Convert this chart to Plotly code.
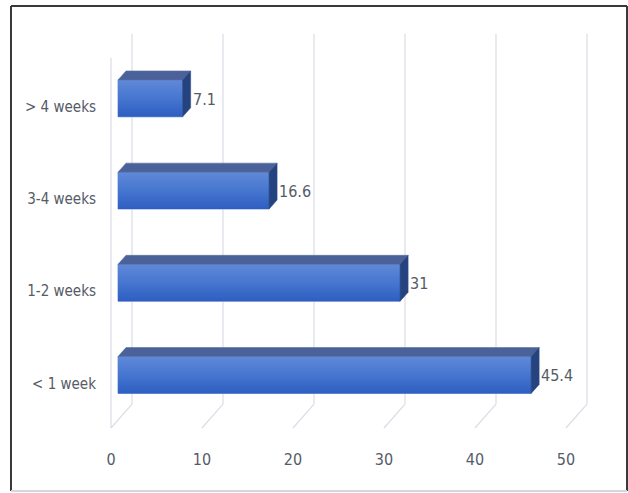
import plotly.graph_objects as go

# Response-time categories, bottom to top, and their percentages
categories = ["< 1 week", "1-2 weeks", "3-4 weeks", "> 4 weeks"]
values = [45.4, 31, 16.6, 7.1]
x_ticks = [0, 10, 20, 30, 40, 50]

# Pseudo-3D geometry, in axis units
BAR_HALF = 0.2          # half height of the bar front face
BAR_DX, BAR_DY = 0.88, 0.098   # bar depth offset (right / up)
FRONT_SHIFT = -0.77     # floor front edge relative to bar front plane
BACK_SHIFT = 1.54       # back wall relative to bar front plane
WALL_TOP, WALL_BOTTOM, FLOOR_FRONT = 3.70, -0.315, -0.575
SIDE_WALL_TOP = 3.44
LABEL_DROP = 0.09

FONT = "DejaVu Sans Condensed, DejaVu Sans, sans-serif"
TEXT_COLOR = "#555b67"
GRID_COLOR = "#d9dde6"

fig = go.Figure()

# Back-wall gridlines and their floor diagonals
shapes = []
for v in x_ticks:
    xb, xf = v + BACK_SHIFT, v + FRONT_SHIFT
    shapes.append(dict(type="line", xref="x", yref="y", x0=xb, x1=xb,
                       y0=WALL_TOP, y1=WALL_BOTTOM, layer="below",
                       line=dict(color=GRID_COLOR, width=1.2)))
    shapes.append(dict(type="line", xref="x", yref="y", x0=xb, x1=xf,
                       y0=WALL_BOTTOM, y1=FLOOR_FRONT, layer="below",
                       line=dict(color=GRID_COLOR, width=1.2)))
# front edge of the left side wall
shapes.append(dict(type="line", xref="x", yref="y",
                   x0=x_ticks[0] + FRONT_SHIFT, x1=x_ticks[0] + FRONT_SHIFT,
                   y0=SIDE_WALL_TOP, y1=FLOOR_FRONT, layer="below",
                   line=dict(color=GRID_COLOR, width=1.2)))

# Front faces of the bars
ypos = list(range(len(categories)))
fig.add_trace(go.Bar(
    x=values, y=ypos, orientation="h", width=2 * BAR_HALF,
    marker=dict(color="#3f6ecb", line=dict(color="#8eaae2", width=1)),
    hoverinfo="skip", showlegend=False,
))

# Shading, top face and side face of each bar
for i, v in enumerate(values):
    yb, yt = i - BAR_HALF, i + BAR_HALF
    # vertical shading on the front face
    fig.add_trace(go.Scatter(
        x=[0, v, v, 0, 0], y=[yb, yb, yt, yt, yb],
        mode="lines", line=dict(width=0), fill="toself",
        fillgradient=dict(type="vertical",
                          colorscale=[[0, "#2e5ec0"], [0.5, "#4676d0"], [1, "#6089d8"]]),
        hoverinfo="skip", showlegend=False,
    ))
    # top face
    fig.add_trace(go.Scatter(
        x=[0, v, v + BAR_DX, BAR_DX, 0],
        y=[yt, yt, yt + BAR_DY, yt + BAR_DY, yt],
        mode="lines", line=dict(width=0.6, color="#5b70a3"), fill="toself",
        fillcolor="#4a6299", hoverinfo="skip", showlegend=False,
    ))
    # right side face
    fig.add_trace(go.Scatter(
        x=[v, v + BAR_DX, v + BAR_DX, v, v],
        y=[yb, yb + BAR_DY, yt + BAR_DY, yt, yb],
        mode="lines", line=dict(width=0.6, color="#2a4a88"), fill="toself",
        fillcolor="#25437f", hoverinfo="skip", showlegend=False,
    ))

# Value labels to the right of each bar
annotations = []
for i, v in enumerate(values):
    annotations.append(dict(
        x=v + BAR_DX, y=i - 0.01, xref="x", yref="y",
        text=f"{v:g}", showarrow=False, xanchor="left", yanchor="middle",
        font=dict(family=FONT, size=16, color=TEXT_COLOR),
    ))

# Outer frame of the chart
FX0, FX1 = -0.1838, 1.0336
FY0, FY1 = -0.1244, 1.0585
frame = "#3a3a3a"
shapes += [
    dict(type="line", xref="paper", yref="paper", x0=FX0, x1=FX1, y0=FY1, y1=FY1,
         line=dict(color=frame, width=2)),
    dict(type="line", xref="paper", yref="paper", x0=FX0, x1=FX0, y0=FY0, y1=FY1,
         line=dict(color=frame, width=2)),
    dict(type="line", xref="paper", yref="paper", x0=FX1, x1=FX1, y0=FY0, y1=FY1,
         line=dict(color=frame, width=2)),
    dict(type="line", xref="paper", yref="paper", x0=FX0, x1=FX1, y0=FY0, y1=FY0,
         line=dict(color="#d3d7de", width=2)),
]

fig.update_layout(
    width=628, height=493,
    margin=dict(l=104, r=18, t=30, b=53),
    paper_bgcolor="white", plot_bgcolor="white",
    shapes=shapes, annotations=annotations,
    barmode="overlay",
    xaxis=dict(range=[-1.538, 54.07], showgrid=False, zeroline=False, showline=False,
               tickvals=[v + FRONT_SHIFT for v in x_ticks],
               ticktext=[str(v) for v in x_ticks],
               ticks="", ticklabelstandoff=8,
               tickfont=dict(family=FONT, size=16, color=TEXT_COLOR)),
    yaxis=dict(range=[-0.705, 3.742], showgrid=False, zeroline=False, showline=False,
               tickvals=[i - LABEL_DROP for i in ypos], ticktext=categories,
               ticks="", ticklabelstandoff=7,
               tickfont=dict(family=FONT, size=15, color=TEXT_COLOR)),
)

fig.write_html("out.html")
